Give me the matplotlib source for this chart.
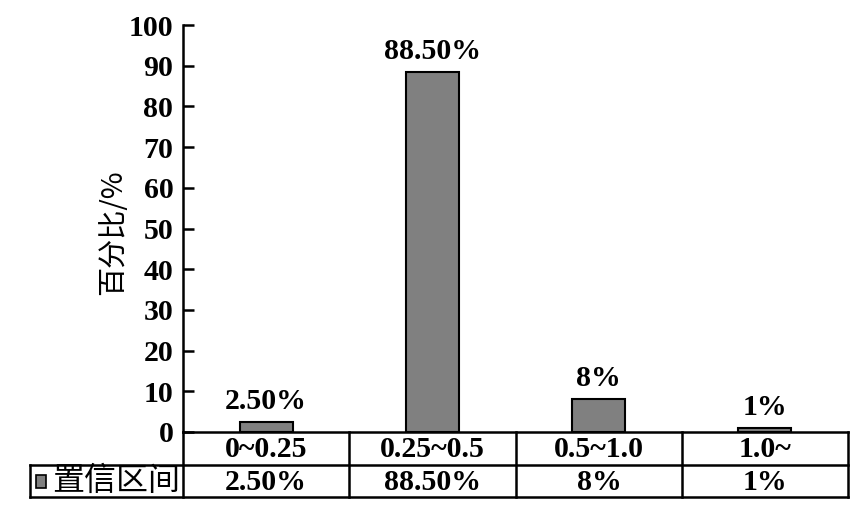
import matplotlib
matplotlib.use("Agg")
import matplotlib.pyplot as plt
from matplotlib.patches import Rectangle

# data
categories = ["0~0.25", "0.25~0.5", "0.5~1.0", "1.0~"]
values = [2.5, 88.5, 8, 1]
value_labels = ["2.50%", "88.50%", "8%", "1%"]
series_name = "置信区间"
y_ticks = list(range(0, 101, 10))

W, H = 863, 519
fig = plt.figure(figsize=(W / 100, H / 100), dpi=100)

# axes box in pixels: left 183, right 848, top 25, bottom 432
ax = fig.add_axes([183 / W, 1 - 432 / H, (848 - 183) / W, (432 - 25) / H])

serif = dict(family="Liberation Serif", weight="bold")
cjk = ["Noto Sans CJK SC", "DejaVu Sans"]
bar_color = "#808080"
fs = 21.5

x = list(range(len(categories)))
ax.bar(x, values, width=0.32, color=bar_color, edgecolor="black", linewidth=1.5, zorder=3)

for xi, v, lab in zip(x, values, value_labels):
    ax.annotate(lab, (xi, v), xytext=(0, 5), textcoords="offset points",
                ha="center", va="bottom", fontsize=fs, **serif)

ax.set_xlim(-0.5, len(categories) - 0.5)
ax.set_ylim(0, 100)
ax.set_yticks(y_ticks)
ax.set_yticklabels([str(t) for t in y_ticks], fontsize=fs, **serif)
ax.tick_params(axis="y", direction="in", length=8, width=1.8, pad=7)
ax.set_xticks([])
for s in ["top", "right", "bottom"]:
    ax.spines[s].set_visible(False)
ax.spines["left"].set_linewidth(1.8)

ax.set_ylabel("百分比/%", family=cjk, fontsize=21)
ax.yaxis.set_label_coords(-0.083, 0.49)

# data table below the axes, drawn in pixel coordinates of the figure
def px(xp, yp):
    return xp / W, 1 - yp / H

col_edges = [183, 349, 516, 682, 848]
legend_left = 30
row_top, row_mid, row_bot = 432, 465, 497
lw = 1.8

def hline(x0, x1, y):
    fig.add_artist(plt.Line2D([x0 / W, x1 / W], [1 - y / H, 1 - y / H],
                              color="black", linewidth=lw))

def vline(xp, y0, y1):
    fig.add_artist(plt.Line2D([xp / W, xp / W], [1 - y0 / H, 1 - y1 / H],
                              color="black", linewidth=lw))

hline(col_edges[0], col_edges[-1], row_top)
hline(legend_left, col_edges[-1], row_mid)
hline(legend_left, col_edges[-1], row_bot)
for ce in col_edges:
    vline(ce, row_top, row_bot)
vline(legend_left, row_mid, row_bot)

for i, (cat, lab) in enumerate(zip(categories, value_labels)):
    cx = (col_edges[i] + col_edges[i + 1]) / 2
    fig.text(*px(cx, (row_top + row_mid) / 2 + 1), cat, ha="center", va="center",
             fontsize=fs, **serif)
    fig.text(*px(cx, (row_mid + row_bot) / 2 + 1), lab, ha="center", va="center",
             fontsize=fs, **serif)

# legend key in the table
fig.add_artist(Rectangle(px(36, 488), 10 / W, 13 / H, facecolor=bar_color,
                         edgecolor="black", linewidth=1.2))
fig.text(*px(116, (row_mid + row_bot) / 2), series_name, ha="center", va="center",
         fontsize=23, family=cjk)

fig.savefig("out.png", dpi=100)
